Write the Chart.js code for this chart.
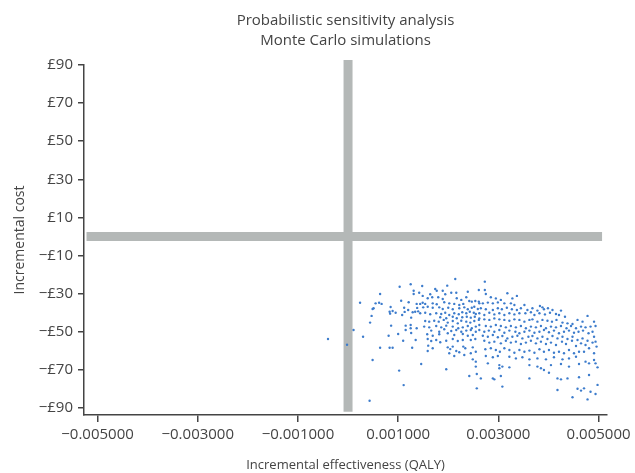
<!DOCTYPE html>
<html>
<head>
<meta charset="utf-8">
<script src="https://cdn.jsdelivr.net/npm/chart.js@4.4.1/dist/chart.umd.min.js"></script>
<style>
  body { margin: 0; background: #fff; }
  canvas { display: block; }
</style>
</head>
<body>
<canvas id="myChart" width="635" height="473"></canvas>
<script>
const titleLines = ['Probabilistic sensitivity analysis', 'Monte Carlo simulations'];
const xTitle = 'Incremental effectiveness (QALY)';
const yTitle = 'Incremental cost';

const xTicks = [-0.005, -0.003, -0.001, 0.001, 0.003, 0.005];
const yTicks = [90, 70, 50, 30, 10, -10, -30, -50, -70, -90];

// grey reference lines (zero effect / zero cost)
const zeroEffectLine = [[0, -92], [0, 92.6]];
const zeroCostLine = [[-0.00522, 0], [0.00507, 0]];

// simulated pairs [incremental QALY, incremental cost in £]
const simulations = [
  [-0.00040,-53.8],[-0.00002,-56.8],[0.00011,-49.1],[0.00024,-34.8],[0.00030,-52.6],[0.00044,-45.2],
  [0.00047,-41.7],[0.00049,-38.1],[0.00051,-37.7],[0.00049,-64.8],[0.00043,-86.2],[0.00055,-35.1],
  [0.00062,-34.8],[0.00067,-35.4],[0.00064,-30.2],[0.00064,-58.4],[0.00081,-52.1],[0.00083,-58.4],
  [0.00089,-58.4],[0.00085,-37.0],[0.00083,-39.5],[0.00084,-40.5],[0.00089,-39.1],[0.00095,-40.0],
  [0.00086,-46.8],[0.00100,-51.2],[0.00102,-70.4],[0.00103,-26.4],[0.00106,-33.7],[0.00108,-41.2],
  [0.00110,-54.7],[0.00111,-78.0],[0.00112,-37.4],[0.00113,-39.6],[0.00115,-46.8],[0.00115,-49.1],
  [0.00120,-38.6],[0.00121,-34.5],[0.00125,-25.1],[0.00125,-46.5],[0.00125,-48.2],[0.00126,-50.7],
  [0.00126,-42.6],[0.00128,-58.4],[0.00129,-39.8],[0.00131,-28.5],[0.00131,-30.2],[0.00134,-39.5],
  [0.00135,-54.3],[0.00137,-35.4],[0.00137,-48.2],[0.00138,-37.5],[0.00140,-39.3],[0.00142,-29.5],

  [0.00214,-22.3],[0.00148,-26.0],[0.00198,-25.8],[0.00174,-27.6],[0.00177,-28.5],[0.00164,-30.3],
  [0.00189,-28.5],[0.00194,-30.3],[0.00206,-29.5],[0.00216,-29.5],[0.00239,-29.0],[0.00261,-28.1],
  [0.00180,-31.9],[0.00189,-32.8],[0.00149,-31.2],[0.00159,-32.4],[0.00168,-31.9],[0.00217,-32.4],
  [0.00226,-33.3],[0.00236,-31.9],[0.00242,-33.9],[0.00247,-34.2],[0.00254,-33.9],[0.00261,-34.2],
  [0.00144,-35.4],[0.00149,-34.8],[0.00154,-35.4],[0.00169,-35.1],[0.00177,-35.6],[0.00192,-34.5],
  [0.00202,-35.1],[0.00212,-35.4],[0.00222,-36.0],[0.00230,-35.4],
  [0.00150,-37.2],[0.00159,-36.9],[0.00169,-37.4],[0.00182,-37.2],[0.00189,-38.1],[0.00200,-37.4],
  [0.00209,-38.2],[0.00222,-37.7],[0.00232,-37.2],[0.00239,-38.2],[0.00247,-37.4],[0.00252,-36.9],
  [0.00259,-38.1],
  [0.00144,-40.3],[0.00154,-40.0],[0.00164,-40.8],[0.00176,-40.3],[0.00186,-40.7],[0.00194,-40.0],
  [0.00202,-41.2],[0.00212,-40.3],[0.00221,-40.8],[0.00228,-39.8],[0.00236,-40.3],[0.00243,-39.5],
  [0.00251,-40.0],[0.00255,-40.7],
  [0.00184,-42.4],[0.00196,-42.9],[0.00209,-42.1],[0.00217,-42.9],[0.00228,-42.4],[0.00237,-42.1],
  [0.00245,-42.6],[0.00253,-42.1],
  [0.00154,-44.4],[0.00162,-44.7],[0.00172,-44.2],[0.00181,-44.7],[0.00191,-43.8],[0.00199,-45.2],
  [0.00209,-44.4],[0.00219,-45.6],[0.00226,-44.2],[0.00236,-44.7],[0.00244,-45.2],[0.00252,-44.4],
  [0.00261,-43.8],
  [0.00152,-47.3],[0.00162,-47.7],[0.00176,-47.0],[0.00186,-47.7],[0.00196,-46.8],[0.00209,-47.3],
  [0.00220,-48.2],[0.00229,-47.7],[0.00239,-47.0],[0.00247,-48.2],[0.00255,-47.3],
  [0.00166,-49.4],[0.00182,-50.0],[0.00192,-48.7],[0.00206,-49.6],[0.00216,-49.1],[0.00226,-50.0],
  [0.00236,-49.4],[0.00245,-49.1],[0.00255,-50.0],
  [0.00158,-51.3],[0.00169,-52.1],[0.00182,-51.3],[0.00199,-50.8],[0.00212,-51.7],[0.00229,-51.2],
  [0.00239,-52.1],[0.00249,-51.7],
  [0.00159,-53.8],[0.00166,-54.9],[0.00176,-54.3],[0.00184,-55.5],[0.00196,-54.7],[0.00209,-53.8],
  [0.00219,-54.9],[0.00229,-54.3],[0.00245,-54.3],[0.00254,-53.8],
  [0.00160,-57.3],[0.00169,-58.7],[0.00159,-60.1],[0.00199,-58.2],[0.00204,-59.1],[0.00209,-57.8],
  [0.00216,-60.1],[0.00230,-57.8],[0.00234,-58.7],[0.00249,-58.2],
  [0.00202,-61.3],[0.00212,-62.7],[0.00222,-60.8],[0.00232,-62.2],[0.00245,-61.3],[0.00255,-60.5],
  [0.00146,-66.9],[0.00249,-64.5],[0.00255,-65.7],[0.00196,-69.7],[0.00255,-68.3],[0.00242,-73.2],
  [0.00257,-72.2],[0.00257,-79.7],

  [0.00273,-23.7],[0.00273,-28.1],[0.00275,-30.2],[0.00318,-29.8],[0.00337,-31.2],[0.00328,-32.5],
  [0.00285,-31.9],[0.00295,-32.5],[0.00305,-33.3],
  [0.00262,-35.1],[0.00269,-35.1],[0.00279,-34.7],[0.00289,-35.1],[0.00299,-34.6],[0.00312,-35.1],
  [0.00325,-35.1],[0.00332,-36.0],[0.00352,-36.0],[0.00383,-36.5],[0.00388,-37.2],
  [0.00265,-37.7],[0.00275,-38.2],[0.00289,-38.6],[0.00299,-37.7],[0.00307,-38.2],[0.00317,-37.4],
  [0.00327,-38.2],[0.00337,-38.6],[0.00345,-37.7],[0.00358,-38.6],[0.00368,-37.7],[0.00378,-38.9],
  [0.00391,-38.2],[0.00399,-37.7],[0.00408,-38.6],[0.00425,-38.9],
  [0.00262,-40.3],[0.00272,-41.2],[0.00282,-40.0],[0.00292,-40.9],[0.00302,-40.3],[0.00312,-41.2],
  [0.00322,-40.3],[0.00332,-40.9],[0.00342,-40.3],[0.00354,-40.3],[0.00365,-39.8],[0.00372,-41.2],
  [0.00382,-40.3],[0.00393,-40.9],[0.00403,-40.0],[0.00415,-40.7],[0.00421,-41.2],[0.00433,-42.1],
  [0.00262,-43.0],[0.00272,-43.5],[0.00282,-43.8],[0.00292,-43.0],[0.00302,-43.5],[0.00312,-43.8],
  [0.00322,-44.2],[0.00332,-43.5],[0.00342,-43.8],[0.00352,-44.7],[0.00362,-43.8],[0.00368,-43.5],
  [0.00378,-44.7],[0.00388,-43.8],[0.00398,-44.2],[0.00407,-44.7],[0.00416,-43.8],[0.00428,-45.2],
  [0.00438,-45.6],[0.00448,-45.9],[0.00458,-43.8],[0.00468,-44.7],[0.00478,-41.7],[0.00491,-44.7],
  [0.00262,-46.5],[0.00275,-47.0],[0.00285,-47.3],[0.00295,-46.5],[0.00305,-47.0],[0.00315,-47.7],
  [0.00325,-47.0],[0.00335,-47.7],[0.00345,-47.0],[0.00355,-48.2],[0.00365,-47.3],[0.00375,-47.7],
  [0.00385,-47.0],[0.00395,-48.2],[0.00405,-47.3],[0.00415,-47.7],[0.00425,-47.0],[0.00436,-48.2],
  [0.00445,-47.0],[0.00455,-48.2],[0.00465,-47.3],[0.00474,-47.7],[0.00484,-47.3],[0.00494,-47.0],
  [0.00262,-49.1],[0.00272,-50.0],[0.00281,-49.4],[0.00292,-50.0],[0.00302,-49.1],[0.00312,-50.5],
  [0.00322,-49.4],[0.00334,-50.0],[0.00342,-50.8],[0.00352,-50.0],[0.00362,-49.4],[0.00372,-50.5],
  [0.00382,-50.0],[0.00391,-49.1],[0.00401,-50.3],[0.00411,-49.4],[0.00421,-50.8],[0.00431,-50.0],
  [0.00441,-49.4],[0.00451,-50.5],[0.00460,-50.0],[0.00469,-49.4],[0.00480,-50.8],[0.00488,-50.0],
  [0.00269,-52.1],[0.00279,-52.6],[0.00289,-51.7],[0.00299,-52.9],[0.00308,-52.2],[0.00318,-53.5],
  [0.00328,-52.6],[0.00338,-52.1],[0.00348,-53.5],[0.00360,-52.6],[0.00368,-52.2],[0.00378,-53.5],
  [0.00388,-52.6],[0.00398,-53.8],[0.00408,-52.2],[0.00418,-53.5],[0.00428,-52.6],[0.00438,-53.8],
  [0.00448,-52.6],[0.00458,-54.3],[0.00468,-53.5],[0.00478,-54.7],[0.00491,-52.6],[0.00494,-55.2],
  [0.00272,-54.7],[0.00282,-55.7],[0.00292,-55.2],[0.00305,-56.1],[0.00315,-54.7],[0.00325,-55.7],
  [0.00335,-55.2],[0.00345,-56.4],[0.00355,-55.7],[0.00365,-54.7],[0.00375,-56.1],[0.00385,-55.2],
  [0.00395,-56.4],[0.00405,-55.7],[0.00415,-57.0],[0.00427,-55.2],[0.00435,-56.4],[0.00447,-54.7],
  [0.00455,-57.5],[0.00465,-56.1],[0.00474,-57.0],[0.00488,-55.7],[0.00496,-57.8],
  [0.00274,-59.2],[0.00285,-58.7],[0.00295,-59.6],[0.00303,-60.5],[0.00312,-58.7],[0.00322,-59.6],
  [0.00332,-61.0],[0.00342,-59.6],[0.00352,-60.5],[0.00362,-59.9],[0.00372,-61.0],[0.00382,-59.2],
  [0.00391,-60.5],[0.00401,-59.6],[0.00411,-61.0],[0.00421,-60.5],[0.00431,-61.3],[0.00441,-59.6],
  [0.00451,-61.3],[0.00461,-60.5],[0.00471,-60.5],[0.00481,-58.7],[0.00491,-61.3],
  [0.00275,-62.7],[0.00289,-63.4],[0.00299,-62.7],[0.00322,-63.1],[0.00335,-64.0],[0.00348,-63.4],
  [0.00362,-64.5],[0.00378,-64.0],[0.00395,-64.5],[0.00411,-63.4],[0.00428,-64.5],[0.00441,-64.0],
  [0.00455,-63.1],[0.00474,-65.7],[0.00491,-64.8],[0.00494,-66.6],
  [0.00279,-66.6],[0.00302,-67.5],[0.00308,-68.3],[0.00362,-67.5],[0.00378,-68.3],[0.00405,-67.5],
  [0.00425,-66.9],[0.00441,-68.3],[0.00461,-66.9],[0.00481,-66.6],[0.00498,-68.7],
  [0.00302,-69.2],[0.00322,-68.7],[0.00385,-69.2],[0.00391,-70.1],
  [0.00265,-74.5],[0.00289,-74.5],[0.00292,-75.0],[0.00305,-73.2],[0.00362,-74.5],[0.00401,-71.5],
  [0.00418,-74.5],[0.00425,-75.0],[0.00438,-74.5],[0.00461,-73.9],[0.00481,-72.7],[0.00498,-77.9],
  [0.00308,-78.8],[0.00418,-80.6],[0.00458,-79.9],[0.00465,-80.9],[0.00471,-79.7],[0.00484,-81.5],
  [0.00494,-82.7],[0.00448,-84.4],[0.00478,-85.5]
];

const ctx = document.getElementById('myChart');
const textColor = '#444444';
const lineGrey = '#b4b8b7';

Chart.defaults.font.family = '"Open Sans", sans-serif';
Chart.defaults.color = textColor;

function toXY(list) {
    return list.map(p => ({ x: p[0], y: p[1] }));
}

function qalyLabel(value) {
    let s = Math.abs(value).toFixed(6);
    return value < 0 ? '\u2212' + s : s;
}

function costLabel(value) {
    return (value < 0 ? '\u2212£' : '£') + Math.abs(value);
}

const chart = new Chart(ctx, {
    type: 'scatter',
    data: {
        datasets: [{
            data: toXY(simulations),
            backgroundColor: '#3d7ccc',
            borderWidth: 0,
            pointRadius: 1.2,
            order: 0
        }, {
            data: toXY(zeroEffectLine),
            showLine: true,
            borderColor: lineGrey,
            borderWidth: 9,
            borderCapStyle: 'butt',
            pointRadius: 0,
            clip: false,
            order: 1
        }, {
            data: toXY(zeroCostLine),
            showLine: true,
            borderColor: lineGrey,
            borderWidth: 9,
            borderCapStyle: 'butt',
            pointRadius: 0,
            clip: false,
            order: 2
        }]
    },
    options: {
        responsive: false,
        animation: false,
        layout: { padding: { right: 27 } },
        plugins: {
            legend: { display: false },
            tooltip: { enabled: false },
            title: {
                display: true,
                text: titleLines,
                fullSize: false,
                color: textColor,
                font: { size: 15, weight: 'normal', lineHeight: 1.333 },
                padding: { top: 11, bottom: 14 }
            }
        },
        scales: {
            x: {
                type: 'linear',
                min: -0.00527,
                max: 0.00517,
                afterBuildTicks: s => { s.ticks = xTicks.map(v => ({ value: v })); },
                afterFit: s => { s.height = 58; },
                ticks: {
                    callback: v => qalyLabel(v),
                    autoSkip: false,
                    maxRotation: 0,
                    padding: 4,
                    font: { size: 15 }
                },
                grid: { drawOnChartArea: false, tickLength: 7, color: textColor, lineWidth: 1.5 },
                border: { color: textColor, width: 1.5 },
                title: {
                    display: true,
                    text: xTitle,
                    font: { size: 13 },
                    padding: { top: 0, bottom: 0 }
                }
            },
            y: {
                type: 'linear',
                min: -93.7,
                max: 90,
                afterBuildTicks: s => { s.ticks = yTicks.map(v => ({ value: v })); },
                afterFit: s => { s.width = 84; },
                ticks: {
                    callback: v => costLabel(v),
                    autoSkip: false,
                    padding: 5,
                    font: { size: 15 }
                },
                grid: { drawOnChartArea: false, tickLength: 6, color: textColor, lineWidth: 1.5 },
                border: { color: textColor, width: 1.5 },
                title: {
                    display: true,
                    text: yTitle,
                    font: { size: 14 },
                    padding: { top: 12, bottom: 0 }
                }
            }
        }
    }
});
</script>
</body>
</html>
